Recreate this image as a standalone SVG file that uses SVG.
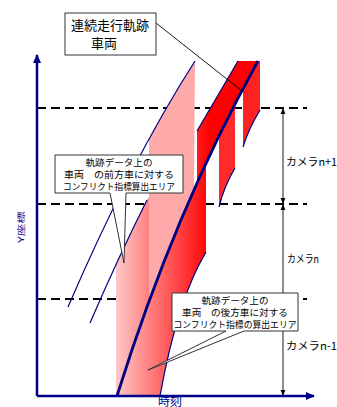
<svg xmlns="http://www.w3.org/2000/svg" width="337" height="407" viewBox="0 0 337 407">
<defs>
  <linearGradient id="gRed" gradientUnits="userSpaceOnUse" x1="116" y1="0" x2="210" y2="0">
    <stop offset="0" stop-color="#FFC8C8"/>
    <stop offset="1" stop-color="#FF0000"/>
  </linearGradient>
  <marker id="dimArrow" viewBox="0 0 6 6" refX="6" refY="3" markerWidth="6" markerHeight="6" markerUnits="userSpaceOnUse" orient="auto-start-reverse">
    <path d="M0,0.6 L6,3 L0,5.4 z" fill="#000"/>
  </marker>
  <marker id="axisArrow" viewBox="0 0 9 8" refX="8" refY="4" markerWidth="9" markerHeight="8" markerUnits="userSpaceOnUse" orient="auto">
    <path d="M0,0 L9,4 L0,8 z" fill="#00008B"/>
  </marker>
</defs>
<style>
  .dash{stroke:#000;stroke-width:2.2;stroke-dasharray:9 5;fill:none}
  .dim{stroke:#000;stroke-width:0.9;fill:none;marker-start:url(#dimArrow);marker-end:url(#dimArrow)}
  .thin{stroke:#000080;stroke-width:1.2;fill:none}
  .thick{stroke:#000080;stroke-width:2.8;fill:none}
  .axis{stroke:#00008B;stroke-width:2.5;fill:none;marker-end:url(#axisArrow)}
  .callout{fill:#fff;stroke:#333;stroke-width:1}
  .lead{stroke:#000;stroke-width:0.9;fill:none}
  .t{font-family:"Noto Sans CJK JP","Noto Sans",sans-serif;fill:#000}
  .c10{font-size:9px;text-anchor:middle}
  .cam{font-size:11px}
  .ax{font-family:"Noto Sans CJK JP","Noto Sans",sans-serif;fill:#00008B;font-size:12px;text-anchor:middle}
</style>

<g id="camera-boundaries">
  <path class="dash" d="M37,108 H307"/>
  <path class="dash" d="M37,204 H307"/>
  <path class="dash" d="M37,299 H307"/>
</g>

<g id="camera-ranges">
  <path class="dim" d="M283,108 V204"/>
  <path class="dim" d="M283,204 V299"/>
  <path class="dim" d="M283,299 V396"/>
</g>

<g id="areas">
  <path id="rear-area" fill="url(#gRed)" d="M238,61 L258,61 Q230.6,110.1 206,163 L206,252 Q177.3,300 160,396 L117,396 Q152.4,282.6 197,183 L197,131 Z"/>
  <path id="front-area-lower" fill="url(#gRed)" d="M149,197 L147,200 Q131.3,230.8 116,264 L116,396 L117,396 Q132.1,347.4 149,301 Z"/>
  <path id="front-area-upper" fill="#FFAAAA" d="M195,61 Q171.9,97.2 149,139 L149,301 Q170.2,243.6 194,189.7 Z"/>
  <path id="rear-area-n" fill="#FF2A2A" d="M219,136 Q225.1,117.7 235,104 L235,168 Q224.2,186 219,207 Z"/>
  <path id="rear-area-n1" fill="#FF2222" d="M258,61 L260,61 L260,110 Q248.2,129.7 243,147 L243,89 Q250.4,74.7 258,61 Z"/>
</g>

<g id="trajectories">
  <path class="thin" d="M195,61 Q130.4,162 68,307"/>
  <path class="thin" d="M147,200 Q118.4,257 90,323"/>
  <path class="thin" d="M238,61 L197,131"/>
  <path class="thin" d="M206,252 Q177.3,300 160,396"/>
  <path class="thin" d="M235,168 Q224.2,186 219,207"/>
  <path class="thin" d="M260,110 Q248.2,129.7 243,147"/>
  <path class="thick" d="M117,396 Q175,210 258,61"/>
</g>

<g id="axes">
  <path class="axis" d="M37,396 V55"/>
  <path class="axis" d="M37,396 H314"/>
  <text class="ax" transform="translate(21,227) rotate(-90) scale(1.05,0.65)" y="4">Y座標</text>
  <text class="ax" x="170" y="405.5" font-size="10">時刻</text>
</g>

<g id="callout-vehicle">
  <path class="lead" d="M156,23 L242,91"/>
  <rect class="callout" x="65" y="13" width="91" height="42"/>
  <text class="t" x="71" y="30" font-size="13">連続走行軌跡</text>
  <text class="t" x="91" y="48" font-size="13">車両</text>
</g>

<g id="callout-front">
  <path class="callout" d="M55,155 H183 V193 H126 L124,263 L110,193 H55 Z"/>
  <text class="t c10" x="119" y="166" textLength="67" lengthAdjust="spacingAndGlyphs">軌跡データ上の</text>
  <text class="t c10" x="119" y="178" textLength="110" lengthAdjust="spacingAndGlyphs">車両　の前方車に対する</text>
  <text class="t c10" x="119" y="190" textLength="112" lengthAdjust="spacingAndGlyphs">コンフリクト指標算出エリア</text>
</g>

<g id="callout-rear">
  <path class="callout" d="M172,293 H298 V331 H244 L148,370 L226,331 H172 Z"/>
  <text class="t c10" x="235" y="304" textLength="67" lengthAdjust="spacingAndGlyphs">軌跡データ上の</text>
  <text class="t c10" x="235" y="316" textLength="106" lengthAdjust="spacingAndGlyphs">車両　の後方車に対する</text>
  <text class="t c10" x="235" y="328" textLength="123" lengthAdjust="spacingAndGlyphs">コンフリクト指標の算出エリア</text>
</g>

<g id="camera-labels">
  <text class="t cam" x="286" y="166" textLength="51" lengthAdjust="spacingAndGlyphs">カメラn+1</text>
  <text class="t cam" x="287" y="263" textLength="32" lengthAdjust="spacingAndGlyphs">カメラn</text>
  <text class="t cam" x="286" y="350" textLength="51" lengthAdjust="spacingAndGlyphs">カメラn-1</text>
</g>
</svg>
